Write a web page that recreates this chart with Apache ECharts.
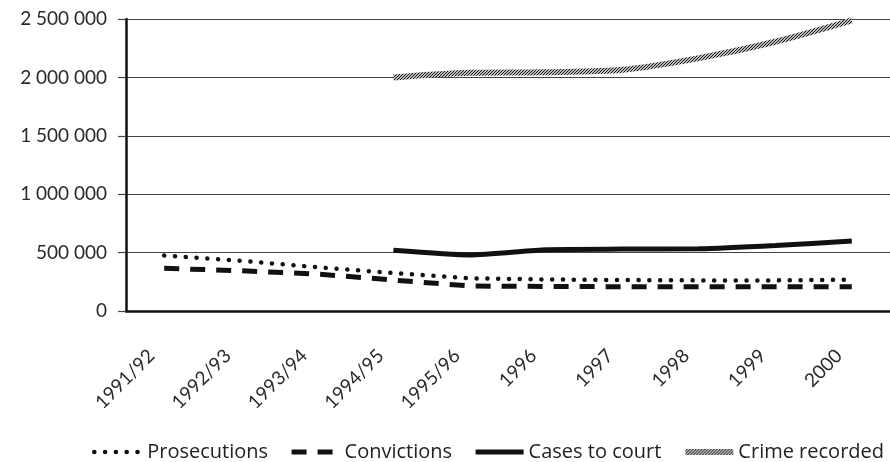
<!DOCTYPE html>
<html>
<head>
<meta charset="utf-8">
<script src="https://cdn.jsdelivr.net/npm/echarts@6/dist/echarts.min.js"></script>
<style>
  html, body { margin: 0; padding: 0; background: #fff; }
  #charts { width: 890px; height: 462px; }
</style>
</head>
<body>
<div id="charts"></div>
<script>
// categories and series
const years = ['1991/92', '1992/93', '1993/94', '1994/95', '1995/96', '1996', '1997', '1998', '1999', '2000'];
const prosecutions = [475000, 430000, 375000, 325000, 280000, 270000, 265000, 262000, 262000, 268000];
const convictions = [365000, 345000, 317000, 265000, 214000, 210000, 208000, 208000, 208000, 208000];
const casesToCourt = [null, null, null, 520000, 480000, 525000, 530000, 532000, 560000, 600000];
const crimeRecorded = [null, null, null, 2000000, 2040000, 2045000, 2065000, 2165000, 2305000, 2488000];
const seriesNames = ['Prosecutions', 'Convictions', 'Cases to court', 'Crime recorded'];

// hatch texture for the crime line
const hatch = document.createElement('canvas');
hatch.width = 3;
hatch.height = 3;
const hctx = hatch.getContext('2d');
hctx.fillStyle = '#bcbcbc';
hctx.fillRect(0, 0, 3, 3);
hctx.strokeStyle = '#151515';
hctx.lineWidth = 1;
hctx.beginPath();
hctx.moveTo(-1, 4); hctx.lineTo(4, -1);
hctx.stroke();
const hatchColor = { image: hatch, repeat: 'repeat' };

function fmt(v) {
    return String(v).replace(/\B(?=(\d{3})+(?!\d))/g, ' ');
}

const myChart = echarts.init(document.getElementById('charts'));

const option = {
    animation: false,
    grid: { left: 126, top: 19, width: 771, height: 292 },
    legend: {
        left: 92,
        top: 442,
        width: 800,
        padding: 0,
        itemWidth: 48,
        itemHeight: 14,
        itemGap: 21,
        itemStyle: { opacity: 0 },
        textStyle: { fontFamily: 'Open Sans', fontSize: 20, color: '#222' },
        data: [
            { name: seriesNames[0], lineStyle: { width: 4.5 } },
            { name: seriesNames[1], lineStyle: { width: 5 } },
            { name: seriesNames[2], lineStyle: { width: 5 } },
            { name: seriesNames[3], lineStyle: { width: 6 } }
        ]
    },
    xAxis: {
        type: 'category',
        data: years,
        boundaryGap: true,
        axisLine: { lineStyle: { color: '#111', width: 2.5 } },
        axisTick: { length: 8, lineStyle: { color: '#111', width: 2 } },
        axisLabel: {
            rotate: 45,
            margin: 29,
            padding: [0, 18, 0, 0],
            fontFamily: 'Lato',
            fontSize: 19,
            color: '#2a2a2a'
        }
    },
    yAxis: {
        type: 'value',
        min: 0,
        max: 2500000,
        interval: 500000,
        axisLine: { show: true, lineStyle: { color: '#111', width: 2.5 } },
        axisTick: { show: true, length: 8, lineStyle: { color: '#444', width: 1.2 } },
        splitLine: { lineStyle: { color: '#444', width: 1.2 } },
        axisLabel: {
            margin: 19,
            fontFamily: 'Lato',
            fontSize: 19,
            color: '#2a2a2a',
            formatter: fmt
        }
    },
    series: [
        {
            name: seriesNames[0],
            type: 'line',
            data: prosecutions,
            symbol: 'none',
            lineStyle: { color: '#111', width: 4.5, type: [0.1, 10.7], cap: 'round' },
            itemStyle: { color: '#111' },
            z: 3
        },
        {
            name: seriesNames[1],
            type: 'line',
            data: convictions,
            symbol: 'none',
            lineStyle: { color: '#111', width: 5, type: [15, 11] },
            itemStyle: { color: '#111' },
            z: 2
        },
        {
            name: seriesNames[2],
            type: 'line',
            data: casesToCourt,
            symbol: 'none',
            smooth: 0.2,
            lineStyle: { color: '#111', width: 5 },
            itemStyle: { color: '#111' }
        },
        {
            name: seriesNames[3],
            type: 'line',
            data: crimeRecorded,
            symbol: 'none',
            smooth: 0.3,
            lineStyle: { color: hatchColor, width: 6 },
            itemStyle: { color: '#666' }
        }
    ]
};

option && myChart.setOption(option);
</script>
</body>
</html>
